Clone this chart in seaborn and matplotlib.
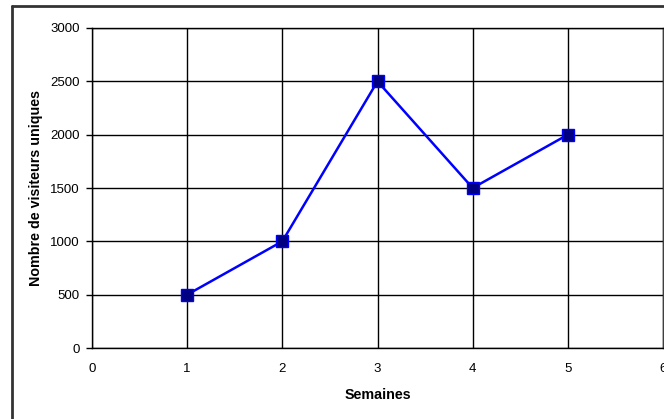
import matplotlib
matplotlib.use("Agg")
import matplotlib.pyplot as plt
from matplotlib.lines import Line2D
import seaborn as sns
import pandas as pd

semaines = [1, 2, 3, 4, 5]
visiteurs = [500, 1000, 2500, 1500, 2000]
x_ticks = [0, 1, 2, 3, 4, 5, 6]
y_ticks = [0, 500, 1000, 1500, 2000, 2500, 3000]

df = pd.DataFrame({"Semaines": semaines, "Visiteurs": visiteurs})

sns.set_style("white")
plt.rcParams["font.family"] = ["Liberation Sans", "DejaVu Sans"]

W, H = 664, 419
fig = plt.figure(figsize=(W / 100, H / 100), dpi=100)
ax = fig.add_axes([92 / W, (H - 348) / H, 571 / W, 320 / H])

sns.lineplot(data=df, x="Semaines", y="Visiteurs", ax=ax, color="#0000FF",
             linewidth=1.8, marker="s", markersize=8,
             markerfacecolor="#000080", markeredgecolor="#0000FF",
             markeredgewidth=1.0)

ax.set_xlim(0, 6)
ax.set_ylim(0, 3000)
ax.set_xticks(x_ticks)
ax.set_yticks(y_ticks)
ax.grid(True, color="black", linewidth=1.0)
ax.set_axisbelow(True)
for s in ax.spines.values():
    s.set_color("black")
    s.set_linewidth(1.0)
ax.spines["right"].set_color("#404040")
ax.tick_params(axis="y", length=4, width=1, color="black", labelcolor="black",
               labelsize=9.5, pad=5, left=True)
ax.tick_params(axis="x", length=0, labelcolor="black", labelsize=9.5, pad=11, bottom=True)
ax.set_xlabel("Semaines", fontsize=10.3, fontweight="bold", labelpad=9, color="black")
ax.set_ylabel("Nombre de visiteurs uniques", fontsize=10.3, fontweight="bold",
              labelpad=5, color="black")

# outer chart frame (left and top edges visible)
fig.add_artist(Line2D([12 / W, 12 / W], [0, 1 - 6 / H], transform=fig.transFigure,
                      color="#333333", linewidth=2))
fig.add_artist(Line2D([12 / W, 1], [1 - 6 / H, 1 - 6 / H], transform=fig.transFigure,
                      color="#333333", linewidth=2))

fig.savefig("out.png", dpi=100, facecolor="white")
